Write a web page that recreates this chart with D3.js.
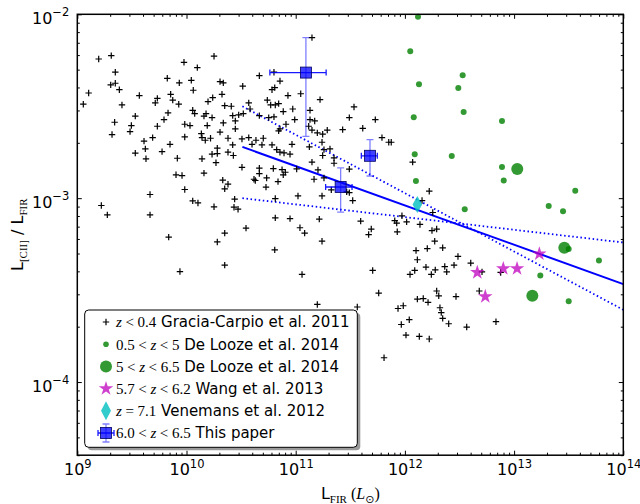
<!DOCTYPE html>
<html>
<head>
<meta charset="utf-8">
<script src="https://cdn.jsdelivr.net/npm/d3@7"></script>
<style>
body { margin: 0; background: #fff; }
svg { display: block; font-family: "DejaVu Sans", sans-serif; }
</style>
</head>
<body>
<svg id="chart" width="640" height="504"></svg>
<script>
// values, stored as [log10 L_FIR, log10 L_CII/L_FIR]
const gracia = [
  [9.055,-2.489],[9.104,-2.428],[9.196,-2.243],[9.311,-2.225],[9.348,-2.315],[9.306,-2.384],[9.348,-2.375],[9.385,-2.410],[9.409,-2.493],[9.342,-2.587],
  [9.318,-2.654],[9.531,-2.554],[9.568,-2.442],[9.495,-2.605],[9.483,-2.638],[9.611,-2.690],[9.623,-2.732],[9.531,-2.755],[9.690,-2.671],[9.733,-2.457],
  [9.714,-2.482],[9.733,-2.609],[9.824,-2.348],[9.855,-2.435],[9.874,-2.467],[9.831,-2.536],[9.794,-2.573],[9.776,-2.747],[9.849,-2.707],[9.929,-2.489],
  [9.934,-2.373],[9.977,-2.261],[10.044,-2.359],[10.062,-2.413],[10.099,-2.290],[9.984,-2.598],[10.032,-2.605],[9.984,-2.667],[10.057,-2.522],[10.075,-2.540],
  [10.136,-2.649],[10.142,-2.671],[10.172,-2.685],[10.160,-2.554],[10.179,-2.540],[10.190,-2.605],[10.197,-2.475],[10.240,-2.453],[10.234,-2.562],[10.252,-2.228],
  [10.220,-2.674],[10.282,-2.728],[10.234,-2.761],[10.282,-2.758],[10.307,-2.366],[10.337,-2.373],[10.325,-2.435],[10.350,-2.497],[10.410,-2.500],
  [10.307,-2.641],[10.337,-2.591],[10.380,-2.674],[10.423,-2.710],[10.380,-2.750],[10.429,-2.768],[10.423,-2.551],[10.478,-2.547],[10.447,-2.580],[10.447,-2.623],
  [10.515,-2.391],[10.520,-2.540],[10.508,-2.678],[10.570,-2.671],[10.570,-2.482],[10.582,-2.515],[10.667,-2.334],[9.916,-2.783],[10.142,-2.786],[9.629,-2.786],
  [11.149,-2.127],[10.801,-2.315],[10.856,-2.363],[10.808,-2.399],[10.783,-2.410],[11.046,-2.432],[11.223,-2.464],[10.740,-2.467],[10.771,-2.493],[10.813,-2.493],
  [10.844,-2.486],[10.929,-2.442],[10.973,-2.515],[10.886,-2.529],[11.131,-2.522],[11.534,-2.504],[11.491,-2.562],[11.729,-2.573],[10.667,-2.551],[10.753,-2.562],
  [10.801,-2.558],[10.991,-2.573],[10.911,-2.598],[10.844,-2.634],[10.856,-2.623],[11.131,-2.573],[11.174,-2.580],[11.119,-2.609],[11.149,-2.630],[11.198,-2.645],
  [11.247,-2.652],[11.289,-2.630],[11.430,-2.627],[11.614,-2.620],[11.790,-2.671],[11.852,-2.696],[11.875,-2.696],[10.636,-2.685],[10.703,-2.674],[10.783,-2.710],
  [10.691,-2.710],[10.600,-2.707],[10.826,-2.736],[10.856,-2.750],[10.893,-2.754],[10.948,-2.761],[10.966,-2.707],[11.125,-2.721],[11.241,-2.696],[11.259,-2.736],
  [11.314,-2.732],[11.247,-2.768],
  [10.270,-2.807],[10.160,-2.864],[9.904,-2.873],[9.959,-2.877],[9.984,-2.953],[10.057,-3.015],[10.105,-3.026],[10.332,-2.902],[10.380,-2.924],[10.350,-2.949],
  [10.252,-3.047],[10.508,-2.832],[10.667,-2.837],[10.667,-2.866],[10.618,-2.897],[10.630,-2.904],[10.734,-2.890],[10.728,-2.940],[10.795,-2.839],[10.838,-2.910],
  [10.875,-2.845],[10.905,-2.859],[10.886,-2.873],[11.009,-2.841],[11.149,-2.804],[11.351,-2.781],[11.351,-2.810],[11.204,-2.846],[11.168,-2.897],[11.259,-2.890],
  [11.491,-2.842],[11.326,-2.955],[11.467,-2.966],[11.491,-2.970],[11.522,-3.013],[11.241,-2.988],[11.021,-2.988],[10.813,-3.002],[10.441,-3.005],[10.435,-3.049],
  [10.472,-3.060],[10.813,-3.107],[10.948,-3.111],[11.216,-3.114],[11.595,-3.125],[11.668,-3.198],[10.545,-3.163],[10.350,-3.190],[10.282,-3.238],[11.039,-3.161],
  [11.082,-3.190],[11.241,-3.234],[10.808,-3.281],[9.837,-3.212],[10.350,-3.364],[9.940,-3.399],[11.058,-3.415],[9.666,-2.980],[9.666,-3.091],
  [9.220,-3.040],[9.275,-3.091],
  [12.223,-2.962],[12.157,-3.013],[12.255,-3.078],[11.973,-3.096],[11.907,-3.122],[11.925,-3.136],[12.016,-3.129],[12.138,-3.143],[11.692,-3.168],[11.930,-3.183],
  [12.248,-3.176],[12.291,-3.168],[12.273,-3.234],[12.102,-3.285],[12.205,-3.274],[12.346,-3.270],[12.114,-3.335],[12.486,-3.317],[12.603,-3.353],[12.365,-3.372],
  [12.383,-3.401],[12.193,-3.375],[12.242,-3.415],[12.278,-3.390],[12.090,-3.393],[12.047,-3.415],[12.450,-3.364],[12.706,-3.401],[12.877,-3.404],[11.705,-3.393],
  [11.760,-3.516],[12.291,-3.505],[12.310,-3.531],[12.114,-3.549],[12.168,-3.546],[12.212,-3.567],[12.468,-3.535],[12.681,-3.505],[12.321,-3.596],[12.333,-3.622],
  [12.346,-3.654],[12.401,-3.683],[11.937,-3.600],[11.985,-3.585],[12.040,-3.661],[11.967,-3.687],[12.566,-3.701],[12.834,-3.672],
  [11.564,-3.592],[12.010,-3.745],[12.132,-3.752],[12.223,-3.766],[11.809,-3.868],[11.198,-3.578],[12.071,-2.804]
];
const loozeLowZ = [
  [12.120,-2.013],[12.049,-2.201],[12.129,-2.380],[12.081,-2.560],[12.090,-2.761],[12.529,-2.332],[12.489,-2.401],[12.538,-2.531],
  [12.429,-2.770],[12.889,-2.580],[12.889,-2.830],[12.905,-2.904],[12.101,-2.906],[12.548,-3.060],[13.317,-3.042],[13.448,-3.071],
  [13.560,-2.960],[13.500,-3.277],[13.777,-3.339],[13.240,-3.421],[13.500,-3.560]
];
const loozeHighZ = [[13.029,-2.841],[13.460,-3.270],[13.167,-3.531]];
const wang = [[13.231,-3.303],[12.663,-3.404],[12.901,-3.383],[13.027,-3.383],[12.736,-3.535]];
const venemans = [[12.114,-3.035]];

const paperL = [1.24e11, 4.79e11, 2.58e11];
const paperLerr = [6.6e10, 8.0e10, 7.0e10];
const paperR = [4.82e-3, 1.70e-3, 1.15e-3];
const paperRerr = [2.65e-3, 3.8e-4, 3.1e-4];

const fitL = [3.25e10, 1e14];
const fitR = [1.90e-3, 3.41e-4];
const fitHiR = [3.16e-3, 2.47e-4];
const fitLoR = [1.0e-3, 5.74e-4];

const legendMath = ["z<0.4", "0.5<z<5", "5<z<6.5", "5.7<z<6.2", "z=7.1", "6.0<z<6.5"];
const legendText = ["Gracia-Carpio et al. 2011", "De Looze et al. 2014", "De Looze et al. 2014",
  "Wang et al. 2013", "Venemans et al. 2012", "This paper"];

const W = 640, H = 504;
const margin = { top: 14.3, right: 16.7, bottom: 48.8, left: 77.3 };
const x = d3.scaleLog().domain([1e9, 1e14]).range([margin.left, W - margin.right]);
const y = d3.scaleLog().domain([4e-5, 1e-2]).range([H - margin.bottom, margin.top]);
const svg = d3.select("#chart");
const unlog = d => [10 ** d[0], 10 ** d[1]];

const GREEN = "#008000", MAG = "#bf00bf", CYAN = "#00bfbf", BLUE = "#0000ff";

// fit and its slope range
const line = d3.line().x(d => x(d[0])).y(d => y(d[1]));
[[fitHiR, "1.5,2.6"], [fitLoR, "1.5,2.6"], [fitR, null]].forEach(([r, dash]) => {
  svg.append("path")
    .attr("d", line(fitL.map((l, i) => [l, r[i]])))
    .attr("fill", "none")
    .attr("stroke", BLUE)
    .attr("stroke-width", dash ? 1.8 : 2)
    .attr("stroke-dasharray", dash);
});

const plus = (cx, cy, s) => `M${cx - s},${cy}h${2 * s}M${cx},${cy - s}v${2 * s}`;

svg.append("g").selectAll("path").data(gracia.map(unlog)).join("path")
  .attr("d", d => plus(x(d[0]), y(d[1]), 3.2))
  .attr("stroke", "#000").attr("stroke-width", 1.2).attr("fill", "none");

svg.append("g").selectAll("circle").data(loozeLowZ.map(unlog)).join("circle")
  .attr("cx", d => x(d[0])).attr("cy", d => y(d[1])).attr("r", 3)
  .attr("fill", GREEN).attr("fill-opacity", 0.8);

svg.append("g").selectAll("circle").data(loozeHighZ.map(unlog)).join("circle")
  .attr("cx", d => x(d[0])).attr("cy", d => y(d[1])).attr("r", 6)
  .attr("fill", GREEN).attr("fill-opacity", 0.8);

const star = d3.symbol(d3.symbolStar, 66);
svg.append("g").selectAll("path").data(wang.map(unlog)).join("path")
  .attr("d", star)
  .attr("transform", d => `translate(${x(d[0])},${y(d[1])})`)
  .attr("fill", MAG).attr("fill-opacity", 0.75);

const diamond = (w, h) => `M0,${-h}L${w},0L0,${h}L${-w},0Z`;
svg.append("g").selectAll("path").data(venemans.map(unlog)).join("path")
  .attr("d", diamond(4.8, 8.5))
  .attr("transform", d => `translate(${x(d[0])},${y(d[1])})`)
  .attr("fill", CYAN).attr("fill-opacity", 0.8);

// this paper, with error bars
function errMarker(g, cx, cy, x0, x1, y0, y1) {
  g.append("path").attr("d", `M${cx},${y0}V${y1}M${cx - 3.5},${y0}h7M${cx - 3.5},${y1}h7`)
    .attr("stroke", BLUE).attr("stroke-opacity", 0.5).attr("stroke-width", 1.3).attr("fill", "none");
  g.append("path").attr("d", `M${x0},${cy}H${x1}M${x0},${cy - 3}v6M${x1},${cy - 3}v6`)
    .attr("stroke", BLUE).attr("stroke-opacity", 0.9).attr("stroke-width", 1.3).attr("fill", "none");
  g.append("rect").attr("x", cx - 5.5).attr("y", cy - 5.5).attr("width", 11).attr("height", 11)
    .attr("fill", BLUE).attr("fill-opacity", 0.75).attr("stroke", "#000060").attr("stroke-width", 0.8);
}
const pg = svg.append("g");
paperL.forEach((l, i) => {
  errMarker(pg, x(l), y(paperR[i]), x(l - paperLerr[i]), x(l + paperLerr[i]),
    y(paperR[i] + paperRerr[i]), y(paperR[i] - paperRerr[i]));
});

// axes
const isMajor = d => Math.abs(Math.log10(d) - Math.round(Math.log10(d))) < 1e-6;
const xMaj = x.ticks().filter(isMajor), xMin = x.ticks().filter(d => !isMajor(d));
const yMaj = y.ticks().filter(isMajor), yMin = y.ticks().filter(d => !isMajor(d));
const sup = function (d) {
  const t = d3.select(this);
  const e = Math.round(Math.log10(d));
  t.text(null);
  t.append("tspan").text("10");
  t.append("tspan").attr("dy", -7.5).attr("font-size", 11.5).text(String(e).replace("-", "\u2212"));
};
const bottom = H - margin.bottom, right = W - margin.right;
function axis(gen, vals, size, tr, labels) {
  const g = svg.append("g").attr("transform", tr)
    .call(gen.tickValues(vals).tickSize(size).tickSizeOuter(0).tickFormat(labels ? null : ""));
  g.select(".domain").remove();
  g.selectAll("line").attr("stroke", "#000").attr("stroke-width", 1);
  return g;
}
const gx = axis(d3.axisBottom(x), xMaj, -4.5, `translate(0,${bottom})`, true);
gx.selectAll("text").attr("y", 20).attr("dy", 0).attr("font-size", 16).attr("fill", "#000").each(sup);
axis(d3.axisBottom(x), xMin, -2.5, `translate(0,${bottom})`, false);
axis(d3.axisTop(x), xMaj, -4.5, `translate(0,${margin.top})`, false);
axis(d3.axisTop(x), xMin, -2.5, `translate(0,${margin.top})`, false);
const gy = axis(d3.axisLeft(y), yMaj, -4.5, `translate(${margin.left},0)`, true);
gy.selectAll("text").attr("x", -8).attr("dy", 9).attr("font-size", 16).attr("fill", "#000").each(sup);
axis(d3.axisLeft(y), yMin, -2.5, `translate(${margin.left},0)`, false);
axis(d3.axisRight(y), yMaj, -4.5, `translate(${right},0)`, false);
axis(d3.axisRight(y), yMin, -2.5, `translate(${right},0)`, false);
svg.selectAll(".tick text").attr("font-family", "DejaVu Sans");

svg.append("rect")
  .attr("x", margin.left).attr("y", margin.top)
  .attr("width", right - margin.left).attr("height", bottom - margin.top)
  .attr("fill", "none").attr("stroke", "#000").attr("stroke-width", 1.5);

// axis labels
const xl = svg.append("text").attr("x", (margin.left + right) / 2).attr("y", 499)
  .attr("text-anchor", "middle").attr("font-size", 16);
xl.append("tspan").text("L");
xl.append("tspan").attr("dy", 3.5).attr("font-size", 11).attr("font-family", "Liberation Serif").text("FIR");
xl.append("tspan").attr("dy", -3.5).attr("font-family", "Liberation Serif").text(" (");
xl.append("tspan").attr("font-family", "Liberation Serif").attr("font-style", "italic").text("L");
xl.append("tspan").attr("dy", 3.5).attr("font-size", 11).text("\u2299");
xl.append("tspan").attr("dy", -3.5).attr("font-family", "Liberation Serif").text(")");

const yl = svg.append("text")
  .attr("transform", `translate(23,${(margin.top + bottom) / 2}) rotate(-90)`)
  .attr("text-anchor", "middle").attr("font-size", 16);
yl.append("tspan").text("L");
yl.append("tspan").attr("dy", 3.5).attr("font-size", 11).attr("font-family", "Liberation Serif").text("[CII]");
yl.append("tspan").attr("dy", -3.5).text(" / L");
yl.append("tspan").attr("dy", 3.5).attr("font-size", 11).attr("font-family", "Liberation Serif").text("FIR");

// legend
const lg = svg.append("g");
const lgX = 84.7, lgY = 310, lgW = 272.6, lgH = 137.3;
lg.append("rect").attr("x", lgX + 3).attr("y", lgY + 3).attr("width", lgW).attr("height", lgH)
  .attr("rx", 4).attr("fill", "#9a9a9a");
lg.append("rect").attr("x", lgX).attr("y", lgY).attr("width", lgW).attr("height", lgH)
  .attr("rx", 4).attr("fill", "#fff").attr("stroke", "#000").attr("stroke-width", 1);

const mx = 106;
const rowY = i => 322 + i * 22.2;
const markers = [
  (g, cy) => g.append("path").attr("d", plus(mx, cy, 3.2)).attr("stroke", "#000").attr("stroke-width", 1.2),
  (g, cy) => g.append("circle").attr("cx", mx).attr("cy", cy).attr("r", 2.8).attr("fill", GREEN).attr("fill-opacity", 0.8),
  (g, cy) => g.append("circle").attr("cx", mx).attr("cy", cy).attr("r", 6).attr("fill", GREEN).attr("fill-opacity", 0.8),
  (g, cy) => g.append("path").attr("d", star).attr("transform", `translate(${mx},${cy})`).attr("fill", MAG).attr("fill-opacity", 0.75),
  (g, cy) => g.append("path").attr("d", diamond(5, 9.5)).attr("transform", `translate(${mx},${cy})`).attr("fill", CYAN).attr("fill-opacity", 0.8),
  (g, cy) => errMarker(g, mx, cy, mx - 8, mx + 8, cy - 9, cy + 9)
];

legendMath.forEach((m, i) => {
  const cy = rowY(i);
  markers[i](lg, cy);
  const t = lg.append("text").attr("x", 116).attr("y", cy + 5.3).attr("font-size", 15);
  let pad = 0;
  m.split(/([<=])/).forEach(tok => {
    if (!tok) return;
    const rel = tok === "<" || tok === "=";
    t.append("tspan")
      .attr("dx", rel ? 3.6 : pad)
      .attr("font-family", "Liberation Serif")
      .attr("font-style", tok === "z" ? "italic" : "normal")
      .text(tok);
    pad = rel ? 3.6 : 0;
  });
  t.append("tspan").attr("dx", 4.8).attr("font-family", "DejaVu Sans").text(legendText[i]);
});
</script>
</body>
</html>
